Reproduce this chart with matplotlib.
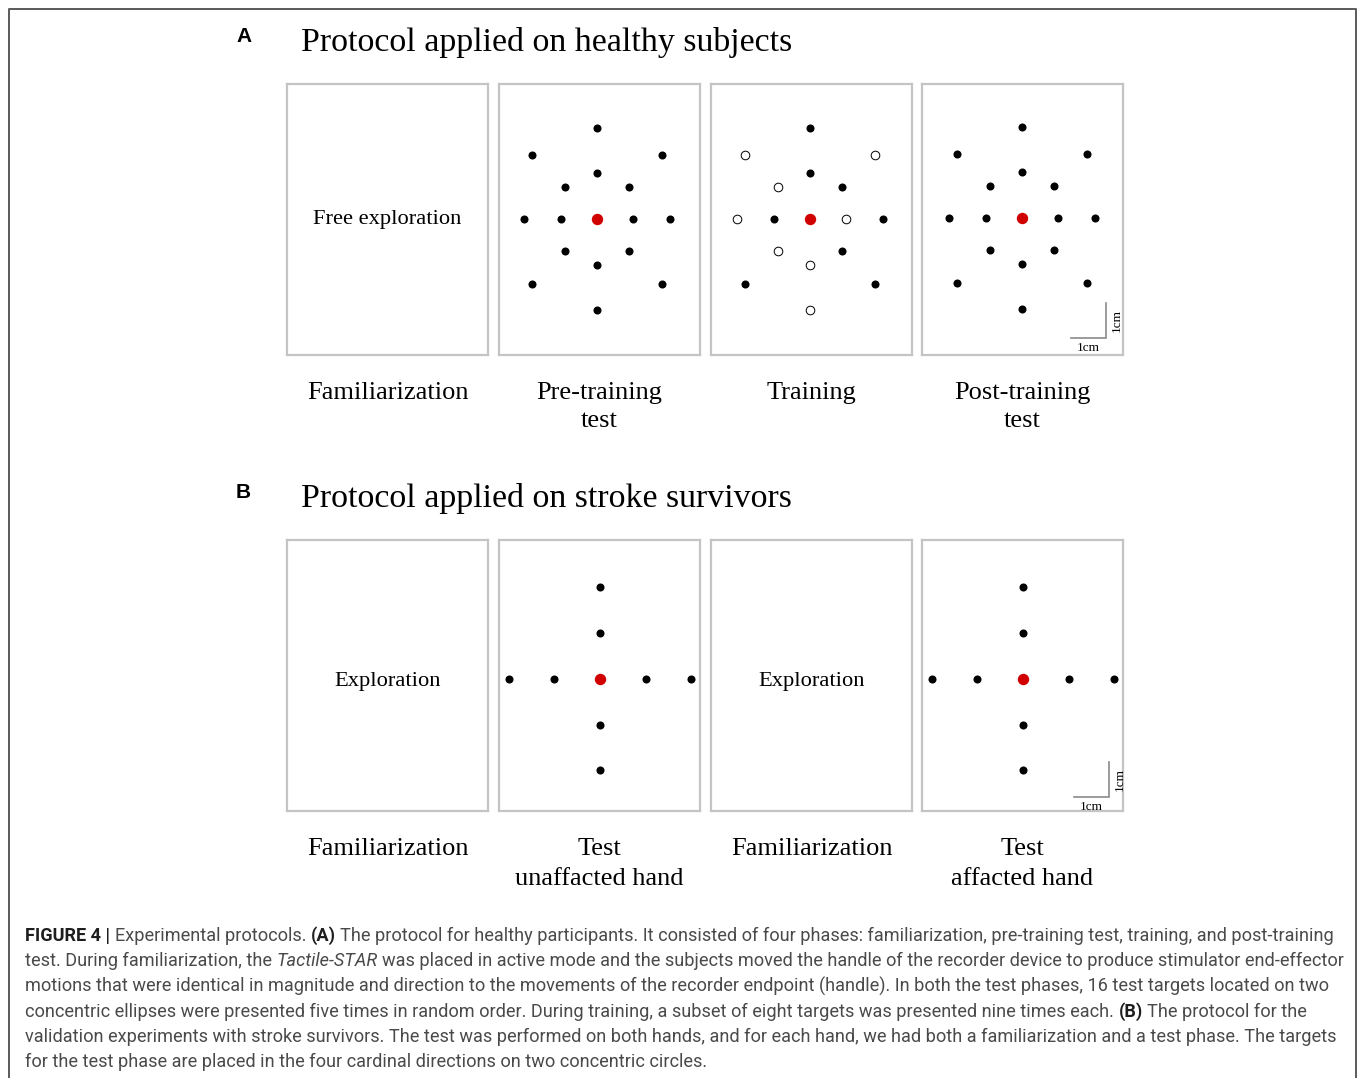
import matplotlib
matplotlib.use("Agg")
import matplotlib.pyplot as plt
from matplotlib.lines import Line2D

W, H = 1358, 1078
PX_PER_CM = 35.0

# target layouts in cm around the start point (x to the right, y upwards)
# order per ring: top, top-right, right, bottom-right, bottom, bottom-left, left, top-left
healthy_x = [0, 1.85, 2.09, 1.85, 0, -1.85, -2.09, -1.85,
             0, 0.91, 1.04, 0.91, 0, -0.91, -1.04, -0.91]
healthy_y = [2.60, 1.83, 0, -1.86, -2.60, -1.86, 0, 1.83,
             1.31, 0.91, 0, -0.91, -1.31, -0.91, 0, 0.91]
# 1 = target used during training (filled), 0 = not used (open)
training_used = [1, 0, 1, 1, 0, 1, 0, 0,
                 1, 1, 0, 1, 0, 0, 1, 0]

stroke_x = [0, 0, 0, 0, -2.61, -1.31, 1.31, 2.61]
stroke_y = [2.62, 1.31, -1.30, -2.61, 0, 0, 0, 0]

labels_a = ["Familiarization", "Pre-training\ntest", "Training", "Post-training\ntest"]
labels_b = ["Familiarization", "Test\nunaffacted hand", "Familiarization", "Test\naffacted hand"]

SERIF = ["Liberation Serif", "DejaVu Serif"]
SANS = ["Roboto", "DejaVu Sans"]
BOX_COLOR = "#c4c4c4"

fig = plt.figure(figsize=(W / 100, H / 100), dpi=100)


def fx(px):
    return px / W


def fy(py):
    return 1 - py / H


# outer frame (bottom edge runs off the page)
frame = Line2D([fx(8.5), fx(8.5), fx(1355.5), fx(1355.5)],
               [fy(H + 5), fy(8.5), fy(8.5), fy(H + 5)],
               transform=fig.transFigure, color="#5a5a5a", lw=1.4)
fig.add_artist(frame)

box_left = [287, 499, 711, 922]
box_w, box_h = 201, 271


def panel(x0, y0, cx_off=0.0, cy_off=0.0):
    # cx_off / cy_off: shift of the start point from the box centre, in px (right / down)
    ax = fig.add_axes([fx(x0), fy(y0 + box_h), box_w / W, box_h / H])
    hw = box_w / PX_PER_CM / 2
    hh = box_h / PX_PER_CM / 2
    ax.set_xlim(-hw - cx_off / PX_PER_CM, hw - cx_off / PX_PER_CM)
    ax.set_ylim(-hh + cy_off / PX_PER_CM, hh + cy_off / PX_PER_CM)
    ax.set_xticks([])
    ax.set_yticks([])
    for s in ax.spines.values():
        s.set_color(BOX_COLOR)
        s.set_linewidth(1.6)
    return ax


def start_point(ax):
    ax.plot([0], [0], "o", color="#d10000", markersize=8.2, markeredgewidth=0)


def scale_bar(ax, gap_px):
    x1 = ax.get_xlim()[1] - gap_px / PX_PER_CM
    y0 = ax.get_ylim()[0] + gap_px / PX_PER_CM
    ax.plot([x1 - 1, x1, x1], [y0, y0, y0 + 1], color="#8a8a8a", lw=1.2,
            solid_joinstyle="miter")
    ax.text(x1 - 0.5, y0 - 0.12, "1cm", ha="center", va="top",
            fontsize=9.5, family=SERIF)
    ax.text(x1 + 0.13, y0 + 0.5, "1cm", ha="left", va="center",
            rotation=90, fontsize=9.5, family=SERIF)


def filled(ax, xs, ys):
    ax.plot(xs, ys, "o", ls="none", color="black", markersize=5.8,
            markeredgewidth=0)


def hollow(ax, xs, ys):
    ax.plot(xs, ys, "o", ls="none", markerfacecolor="white",
            markeredgecolor="black", markersize=6.2, markeredgewidth=0.7)


# ---------- A: healthy subjects ----------
ya = 84
ax = panel(box_left[0], ya)
ax.text(0, 0.0, "Free exploration", ha="center", va="center",
        fontsize=16.2, family=SERIF)

ax = panel(box_left[1], ya, cx_off=-2.5, cy_off=-0.5)
filled(ax, healthy_x, healthy_y)
start_point(ax)

ax = panel(box_left[2], ya, cx_off=-1.5, cy_off=-0.5)
used_x = [x for x, u in zip(healthy_x, training_used) if u]
used_y = [y for y, u in zip(healthy_y, training_used) if u]
free_x = [x for x, u in zip(healthy_x, training_used) if not u]
free_y = [y for y, u in zip(healthy_y, training_used) if not u]
filled(ax, used_x, used_y)
hollow(ax, free_x, free_y)
start_point(ax)

ax = panel(box_left[3], ya, cx_off=-0.5, cy_off=-1.5)
filled(ax, healthy_x, healthy_y)
start_point(ax)
scale_bar(ax, 17)

# ---------- B: stroke survivors ----------
yb = 540
ax = panel(box_left[0], yb)
ax.text(0, -0.17, "Exploration", ha="center", va="center",
        fontsize=16.2, family=SERIF)

ax = panel(box_left[1], yb, cx_off=0.5, cy_off=3.5)
filled(ax, stroke_x, stroke_y)
start_point(ax)

ax = panel(box_left[2], yb)
ax.text(0, -0.17, "Exploration", ha="center", va="center",
        fontsize=16.2, family=SERIF)

ax = panel(box_left[3], yb, cx_off=0.5, cy_off=3.5)
filled(ax, stroke_x, stroke_y)
start_point(ax)
scale_bar(ax, 14)

# ---------- titles and phase labels ----------
fig.text(fx(244), fy(37), "A", ha="center", va="center", fontsize=15,
         fontweight="bold", family=["Liberation Sans", "DejaVu Sans"])
fig.text(fx(243), fy(492), "B", ha="center", va="center", fontsize=15,
         fontweight="bold", family=["Liberation Sans", "DejaVu Sans"])
fig.text(fx(301), fy(43), "Protocol applied on healthy subjects", ha="left",
         va="center", fontsize=24.4, family=SERIF)
fig.text(fx(301), fy(499), "Protocol applied on stroke survivors", ha="left",
         va="center", fontsize=24.4, family=SERIF)

centers = [b + box_w / 2 for b in box_left]
for c, lab in zip(centers, labels_a):
    fig.text(fx(c), fy(382), lab, ha="center", va="top", fontsize=19,
             family=SERIF, linespacing=1.38)
for c, lab in zip(centers, labels_b):
    fig.text(fx(c), fy(838), lab, ha="center", va="top", fontsize=19,
             family=SERIF, linespacing=1.45)

# ---------- caption ----------
caption = [
    [("FIGURE 4 |", "bold", "normal"), ("Experimental protocols.", "normal", "normal"),
     ("(A)", "bold", "normal"),
     ("The protocol for healthy participants. It consisted of four phases: familiarization, "
      "pre-training test, training, and post-training", "normal", "normal")],
    [("test. During familiarization, the", "normal", "normal"),
     ("Tactile-STAR", "normal", "italic"),
     ("was placed in active mode and the subjects moved the handle of the recorder device "
      "to produce stimulator end-effector", "normal", "normal")],
    [("motions that were identical in magnitude and direction to the movements of the "
      "recorder endpoint (handle). In both the test phases, 16 test targets located on two",
      "normal", "normal")],
    [("concentric ellipses were presented five times in random order. During training, a "
      "subset of eight targets was presented nine times each.", "normal", "normal"),
     ("(B)", "bold", "normal"), ("The protocol for the", "normal", "normal")],
    [("validation experiments with stroke survivors. The test was performed on both hands, "
      "and for each hand, we had both a familiarization and a test phase. The targets",
      "normal", "normal")],
    [("for the test phase are placed in the four cardinal directions on two concentric circles.",
      "normal", "normal")],
]
cap_x0 = 25
cap_y0 = 936
cap_dy = 25.2
target_w = 1328 - 25

renderer = fig.canvas.get_renderer()


def seg_width(txt, weight, style, size):
    t = fig.text(0, 0, txt, fontsize=size, fontweight=weight, fontstyle=style,
                 family=SANS)
    w = t.get_window_extent(renderer).width
    t.remove()
    return w


def line_width(line, size):
    sp = seg_width("x x", "normal", "normal", size) - seg_width("xx", "normal", "normal", size)
    return sum(seg_width(s, w, st, size) for s, w, st in line) + sp * (len(line) - 1), sp


base = 12.0
w0, _ = line_width(caption[0], base)
cap_size = base * target_w / w0

for i, line in enumerate(caption):
    _, sp = line_width(line, cap_size)
    x = cap_x0
    y = cap_y0 + i * cap_dy
    for txt, weight, style in line:
        col = "#1e1e1e" if weight == "bold" else "#4a4a4a"
        t = fig.text(fx(x), fy(y), txt, fontsize=cap_size, fontweight=weight,
                     fontstyle=style, family=SANS, color=col, va="center", ha="left")
        x += t.get_window_extent(renderer).width + sp

fig.savefig("out.png", dpi=100, facecolor="white")
